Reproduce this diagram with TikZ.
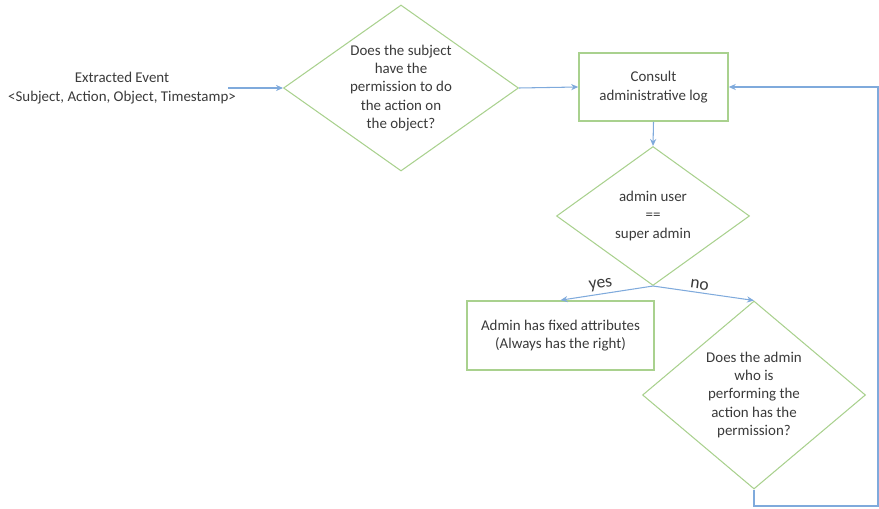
\documentclass[tikz,border=0pt]{standalone}
\usepackage{fontspec}
\setmainfont{Carlito}
\usetikzlibrary{arrows.meta,shapes.geometric}
\definecolor{cBOX}{HTML}{A9D18E}
\definecolor{cARR}{HTML}{7FAADC}
\definecolor{cTXT}{HTML}{3A3A3A}

\begin{document}
\begin{tikzpicture}[font=\fontsize{8.5}{10.4}\selectfont, >={Stealth[length=4pt,width=3.5pt]},
  txt/.style={text=cTXT, align=center},
  dec/.style={txt, draw=cBOX, line width=0.6pt, shape=diamond, inner sep=0pt},
  proc/.style={txt, draw=cBOX, line width=0.9pt, inner sep=0pt},
  flow/.style={->, cARR, line width=0.6pt},
  ans/.style={text=cTXT, font=\fontsize{10}{12}\selectfont, sloped, above, inner sep=1.5pt}]
\useasboundingbox (0,0) rectangle (17.58,10.16);

% input event
\node[txt] (ev) at (2.44,8.40) {Extracted Event\\ <Subject, Action, Object, Timestamp>};
\coordinate (src) at (4.56,8.40);

% decisions and steps
\node[dec, minimum width=4.7cm, minimum height=3.32cm, aspect=1.42] (d1) at (8.02,8.40)
  {Does the subject\\ have the\\ permission to do\\ the action on\\ the object?};
\node[proc, minimum width=2.98cm, minimum height=1.36cm] (c) at (13.07,8.42)
  {Consult\\ administrative log};
\node[dec, minimum width=3.86cm, minimum height=2.78cm, aspect=1.39] (d2) at (13.06,5.84)
  {admin user\\ ==\\ super admin};
\node[proc, minimum width=3.74cm, minimum height=1.38cm] (f) at (11.21,3.45)
  {Admin has fixed attributes\\ (Always has the right)};
\node[dec, minimum width=4.46cm, minimum height=3.76cm, aspect=1.19] (d3) at (15.08,2.26)
  {Does the admin\\ who is\\ performing the\\ action has the\\ permission?};
\coordinate (loop) at (17.56,0.04);

% connectors
\draw[flow] (src) -- (d1.west);
\draw[flow] (d1.east) -- (c.west);
\draw[flow] (c.south) -- (d2.north);
\draw[flow] (d2.south) -- node[ans, pos=0.55] {yes} (f.north);
\draw[flow] (d2.south) -- node[ans, pos=0.45] {no} (d3.north);
\draw[flow] (d3.south) |- (loop) |- (c.east);
\end{tikzpicture}
\end{document}
